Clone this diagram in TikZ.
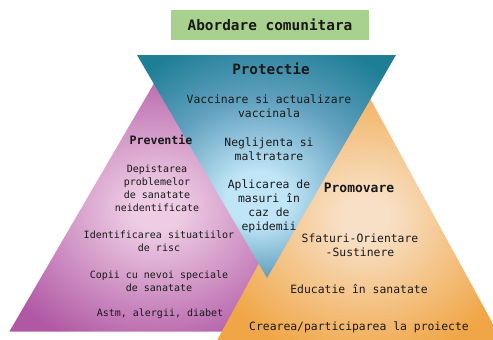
\documentclass[tikz,border=0pt]{standalone}
\usepackage{fontspec}
\setmainfont{DejaVu Sans Mono}
\usepackage{xcolor}
\usepackage{tikz}

\definecolor{titlegreen}{RGB}{169,209,142}
\definecolor{protdark}{RGB}{30,126,150}
\definecolor{protmid}{RGB}{96,160,190}
\definecolor{protlight}{RGB}{192,229,246}
\definecolor{prevdark}{RGB}{176,88,164}
\definecolor{prevlight}{RGB}{238,204,228}
\definecolor{promdark}{RGB}{240,166,70}
\definecolor{promlight}{RGB}{248,224,198}
\definecolor{inktext}{RGB}{25,25,25}

\pgfdeclareradialshading{protshade}{\pgfpoint{-2bp}{-8bp}}{color(0bp)=(protlight); color(6bp)=(protlight); color(20bp)=(protmid); color(33bp)=(protdark); color(50bp)=(protdark)}
\pgfdeclareradialshading{prevshade}{\pgfpoint{0bp}{-1bp}}{color(0bp)=(prevlight); color(4bp)=(prevlight); color(30bp)=(prevdark); color(50bp)=(prevdark)}
\pgfdeclareradialshading{promshade}{\pgfpoint{1bp}{-1bp}}{color(0bp)=(promlight); color(4bp)=(promlight); color(28bp)=(promdark); color(50bp)=(promdark)}

\begin{document}
\begin{tikzpicture}[x=10pt, y=-10pt,
    txt/.style={align=center, text=inktext, font=\fontsize{11.4}{14}\selectfont},
    small/.style={align=center, text=inktext, font=\fontsize{10}{13.3}\selectfont},
    head/.style={text=inktext, font=\bfseries\fontsize{#1}{#1}\selectfont}]
    \useasboundingbox (0,0) rectangle (49.3,34);
    \clip (0,0) rectangle (49.3,34);

    % Preventie - purple, behind the others
    \shade[shading=prevshade] (15.6,8.0) -- (0.93,33.17) -- (30.27,33.17) -- cycle;
    % Promovare - orange
    \shade[shading=promshade] (35.95,7.9) -- (21.4,34.6) -- (50.5,34.6) -- cycle;
    % Protectie - blue, upside down, on top
    \shade[shading=protshade] (13.7,5.5) -- (39.6,5.5) -- (26.7,27.8) -- cycle;

    % Title
    \node[fill=titlegreen, minimum width=198pt, minimum height=30pt, inner sep=0pt, head=14.4] (title) at (27.0,2.5) {Abordare comunitara};

    % Protectie
    \node[head=14.3] (prot) at (27.1,6.9) {Protectie};
    \node[txt] (vacc) at (26.9,10.65) {Vaccinare si actualizare\\vaccinala};
    \node[txt] (negl) at (26.9,14.9) {Neglijenta si\\maltratare};
    \node[txt] (aplic) at (26.9,20.6) {Aplicarea de\\masuri în\\caz de\\epidemii};

    % Preventie
    \node[head=11.6] (prev) at (16.1,14.0) {Preventie};
    \node[small] (depist) at (15.7,18.83) {Depistarea\\problemelor\\de sanatate\\neidentificate};
    \node[small] (ident) at (15.9,24.15) {Identificarea situatiilor\\de risc};
    \node[small] (copii) at (15.9,28.1) {Copii cu nevoi speciale\\de sanatate};
    \node[small] (astm) at (16.0,31.33) {Astm, alergii, diabet};

    % Promovare
    \node[head=13] (prom) at (35.9,18.83) {Promovare};
    \node[txt] (sfat) at (36.0,24.5) {Sfaturi-Orientare\\-Sustinere};
    \node[txt] (educ) at (35.9,28.93) {Educatie în sanatate};
    \node[txt] (crear) at (35.9,32.77) {Crearea/participarea la proiecte};
\end{tikzpicture}
\end{document}
